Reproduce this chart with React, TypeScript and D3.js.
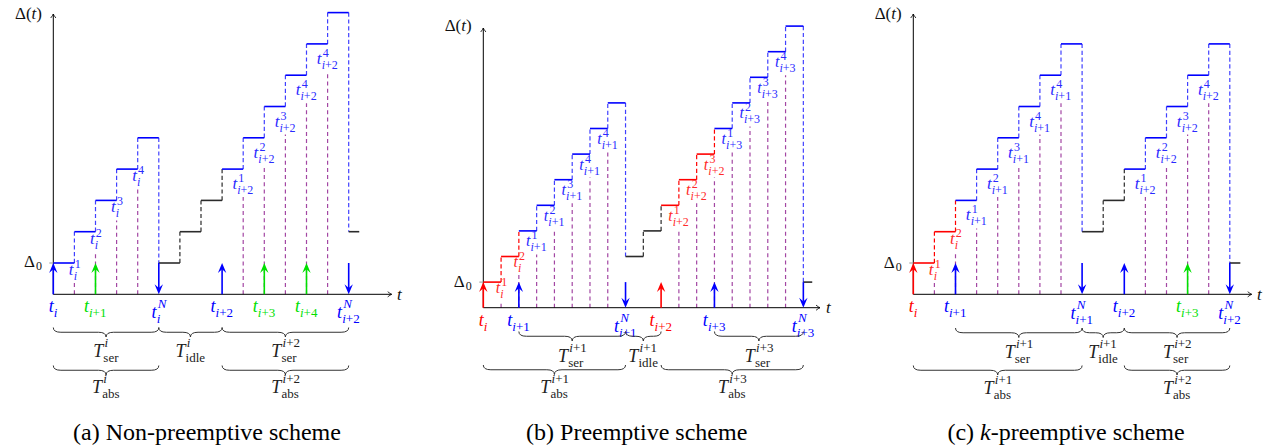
import React from "react";
import * as d3 from "d3";

// ---------- colours ----------
const BLUE = "#0000ff";
const RED = "#ff0000";
const GREEN = "#00e000";
const BLACK = "#2b2b2b";
const PURPLE = "#a347a3";
const LBLUE = "#2a2aff";
const LRED = "#ff2a2a";

type HSeg = [number, number, number, string]; // x0, x1, level, colour
type VSeg = [number, number, number, string]; // x, level0, level1, colour
type UpArrow = [number, string];
type StepLabel = [number, number, string, string, string]; // x, level, sup, sub, colour
type AxisLabel = [number, string, string, string]; // x, sub, sup, colour
type Brace = [number, number, number, string, string]; // x0, x1, row, sup, sub

// ---------- (a) non-preemptive ----------
const aHoriz: HSeg[] = [
  [0, 1, 1, BLUE], [1, 2, 2, BLUE], [2, 3, 3, BLUE], [3, 4, 4, BLUE], [4, 5, 5, BLUE],
  [5, 6, 1, BLACK], [6, 7, 2, BLACK], [7, 8, 3, BLACK],
  [8, 9, 4, BLUE], [9, 10, 5, BLUE], [10, 11, 6, BLUE], [11, 12, 7, BLUE], [12, 13, 8, BLUE], [13, 14, 9, BLUE],
  [14, 14.5, 2, BLACK],
];
const aVert: VSeg[] = [
  [1, 1, 2, BLUE], [2, 2, 3, BLUE], [3, 3, 4, BLUE], [4, 4, 5, BLUE], [5, 5, 1, BLUE],
  [6, 1, 2, BLACK], [7, 2, 3, BLACK], [8, 3, 4, BLACK],
  [9, 4, 5, BLUE], [10, 5, 6, BLUE], [11, 6, 7, BLUE], [12, 7, 8, BLUE], [13, 8, 9, BLUE], [14, 9, 2, BLUE],
];
const aUp: UpArrow[] = [[0, BLUE], [2, GREEN], [8, BLUE], [10, GREEN], [12, GREEN]];
const aDown: number[] = [5, 14];
const aPurple: number[] = [1, 2, 3, 4, 9, 10, 11, 12, 13];
const aLabels: StepLabel[] = [
  [1, 1, "1", "i", LBLUE], [2, 2, "2", "i", LBLUE], [3, 3, "3", "i", LBLUE], [4, 4, "4", "i", LBLUE],
  [9, 4, "1", "i+2", LBLUE], [10, 5, "2", "i+2", LBLUE], [11, 6, "3", "i+2", LBLUE], [12, 7, "4", "i+2", LBLUE], [13, 8, "4", "i+2", LBLUE],
];
const aAxis: AxisLabel[] = [
  [0, "i", "", BLUE], [2, "i+1", "", GREEN], [5, "i", "N", BLUE], [8, "i+2", "", BLUE],
  [10, "i+3", "", GREEN], [12, "i+4", "", GREEN], [14, "i+2", "N", BLUE],
];
const aBraces: Brace[] = [
  [0, 5, 0, "i", "ser"], [5, 8, 0, "i", "idle"], [8, 14, 0, "i+2", "ser"],
  [0, 5, 1, "i", "abs"], [8, 14, 1, "i+2", "abs"],
];

// ---------- (b) preemptive ----------
const bHoriz: HSeg[] = [
  [0, 1, 1, RED], [1, 2, 2, RED],
  [2, 3, 3, BLUE], [3, 4, 4, BLUE], [4, 5, 5, BLUE], [5, 6, 6, BLUE], [6, 7, 7, BLUE], [7, 8, 8, BLUE],
  [8, 9, 2, BLACK], [9, 10, 3, BLACK],
  [10, 11, 4, RED], [11, 12, 5, RED], [12, 13, 6, RED],
  [13, 14, 7, BLUE], [14, 15, 8, BLUE], [15, 16, 9, BLUE], [16, 17, 10, BLUE], [17, 18, 11, BLUE],
  [18, 18.5, 1, BLACK],
];
const bVert: VSeg[] = [
  [1, 1, 2, RED], [2, 2, 3, RED],
  [3, 3, 4, BLUE], [4, 4, 5, BLUE], [5, 5, 6, BLUE], [6, 6, 7, BLUE], [7, 7, 8, BLUE], [8, 8, 2, BLUE],
  [9, 2, 3, BLACK], [10, 3, 4, BLACK],
  [11, 4, 5, RED], [12, 5, 6, RED], [13, 6, 7, RED],
  [14, 7, 8, BLUE], [15, 8, 9, BLUE], [16, 9, 10, BLUE], [17, 10, 11, BLUE], [18, 11, 1, BLUE],
];
const bUp: UpArrow[] = [[0, RED], [2, BLUE], [10, RED], [13, BLUE]];
const bDown: number[] = [8, 18];
const bPurple: number[] = [1, 2, 3, 4, 5, 6, 7, 11, 12, 13, 14, 15, 16, 17];
const bLabels: StepLabel[] = [
  [1, 1, "1", "i", LRED], [2, 2, "2", "i", LRED],
  [3, 3, "1", "i+1", LBLUE], [4, 4, "2", "i+1", LBLUE], [5, 5, "3", "i+1", LBLUE], [6, 6, "4", "i+1", LBLUE], [7, 7, "4", "i+1", LBLUE],
  [11, 4, "1", "i+2", LRED], [12, 5, "2", "i+2", LRED], [13, 6, "3", "i+2", LRED],
  [14, 7, "1", "i+3", LBLUE], [15, 8, "2", "i+3", LBLUE], [16, 9, "3", "i+3", LBLUE], [17, 10, "4", "i+3", LBLUE],
];
const bAxis: AxisLabel[] = [
  [0, "i", "", RED], [2, "i+1", "", BLUE], [8, "i+1", "N", BLUE], [10, "i+2", "", RED],
  [13, "i+3", "", BLUE], [18, "i+3", "N", BLUE],
];
const bBraces: Brace[] = [
  [2, 8, 0, "i+1", "ser"], [8, 10, 0, "i+1", "idle"], [13, 18, 0, "i+3", "ser"],
  [0, 8, 1, "i+1", "abs"], [10, 18, 1, "i+3", "abs"],
];

// ---------- (c) k-preemptive ----------
const cHoriz: HSeg[] = [
  [0, 1, 1, RED], [1, 2, 2, RED],
  [2, 3, 3, BLUE], [3, 4, 4, BLUE], [4, 5, 5, BLUE], [5, 6, 6, BLUE], [6, 7, 7, BLUE], [7, 8, 8, BLUE],
  [8, 9, 2, BLACK], [9, 10, 3, BLACK],
  [10, 11, 4, BLUE], [11, 12, 5, BLUE], [12, 13, 6, BLUE], [13, 14, 7, BLUE], [14, 15, 8, BLUE],
  [15, 15.5, 1, BLACK],
];
const cVert: VSeg[] = [
  [1, 1, 2, RED], [2, 2, 3, RED],
  [3, 3, 4, BLUE], [4, 4, 5, BLUE], [5, 5, 6, BLUE], [6, 6, 7, BLUE], [7, 7, 8, BLUE], [8, 8, 2, BLUE],
  [9, 2, 3, BLACK], [10, 3, 4, BLACK],
  [11, 4, 5, BLUE], [12, 5, 6, BLUE], [13, 6, 7, BLUE], [14, 7, 8, BLUE], [15, 8, 1, BLUE],
];
const cUp: UpArrow[] = [[0, RED], [2, BLUE], [10, BLUE], [13, GREEN]];
const cDown: number[] = [8, 15];
const cPurple: number[] = [1, 2, 3, 4, 5, 6, 7, 11, 12, 13, 14];
const cLabels: StepLabel[] = [
  [1, 1, "1", "i", LRED], [2, 2, "2", "i", LRED],
  [3, 3, "1", "i+1", LBLUE], [4, 4, "2", "i+1", LBLUE], [5, 5, "3", "i+1", LBLUE], [6, 6, "4", "i+1", LBLUE], [7, 7, "4", "i+1", LBLUE],
  [11, 4, "1", "i+2", LBLUE], [12, 5, "2", "i+2", LBLUE], [13, 6, "3", "i+2", LBLUE], [14, 7, "4", "i+2", LBLUE],
];
const cAxis: AxisLabel[] = [
  [0, "i", "", RED], [2, "i+1", "", BLUE], [8, "i+1", "N", BLUE], [10, "i+2", "", BLUE],
  [13, "i+3", "", GREEN], [15, "i+2", "N", BLUE],
];
const cBraces: Brace[] = [
  [2, 8, 0, "i+1", "ser"], [8, 10, 0, "i+1", "idle"], [10, 15, 0, "i+2", "ser"],
  [0, 8, 1, "i+1", "abs"], [10, 15, 1, "i+2", "abs"],
];

// ---------- text helpers ----------
const SERIF = "Liberation Serif";
const UPRIGHT = new Set(["ser", "abs", "idle"]);
const CW: Record<string, number> = {
  t: 0.3, i: 0.29, T: 0.58, N: 0.7, "+": 0.58, "0": 0.5, "1": 0.5, "2": 0.5, "3": 0.5, "4": 0.5,
  s: 0.39, e: 0.44, r: 0.34, a: 0.45, b: 0.5, d: 0.5, l: 0.28,
};
function pieces(s: string) {
  if (UPRIGHT.has(s)) return [{ t: s, it: false }];
  const out: { t: string; it: boolean }[] = [];
  for (const ch of s) {
    const it = /[a-zA-Z]/.test(ch);
    const last = out[out.length - 1];
    if (last && last.it === it) last.t += ch;
    else out.push({ t: ch, it });
  }
  return out;
}
function tw(s: string, size: number) {
  let w = 0;
  for (const ch of s) w += CW[ch] ?? 0.5;
  return w * size;
}
function Txt({ x, y, s, size, color }: { x: number; y: number; s: string; size: number; color: string }) {
  return (
    <text x={x} y={y} fontSize={size} fill={color}>
      {pieces(s).map((p, k) => (
        <tspan key={k} fontStyle={p.it ? "italic" : "normal"}>{p.t}</tspan>
      ))}
    </text>
  );
}
function MathSym({ cx, y, base, sup, sub, size, subSize, color, supUp, subDown }: any) {
  const bw = tw(base, size);
  const sw = Math.max(sup ? tw(sup, subSize) : 0, sub ? tw(sub, subSize) : 0);
  const x0 = cx - (bw + sw) / 2;
  return (
    <g>
      <Txt x={x0} y={y} s={base} size={size} color={color} />
      {sup ? <Txt x={x0 + bw + 0.8} y={y - supUp} s={sup} size={subSize} color={color} /> : null}
      {sub ? <Txt x={x0 + bw - 0.3} y={y + subDown} s={sub} size={subSize} color={color} /> : null}
    </g>
  );
}

function bracePath(x0: number, x1: number, top: number, h: number) {
  const m = (x0 + x1) / 2;
  const yh = top + h / 2;
  const r = Math.min(h * 0.8, (x1 - x0) / 4);
  return `M${x0},${top} Q${x0},${yh} ${x0 + r},${yh} L${m - r},${yh} Q${m},${yh} ${m},${top + h} Q${m},${yh} ${m + r},${yh} L${x1 - r},${yh} Q${x1},${yh} ${x1},${top}`;
}

function head(x: number, tip: number, dir: number, color: string, L = 10, w = 4.2) {
  const b = tip + dir * L;
  const n = tip + dir * L * 0.62;
  return <path d={`M${x},${tip} L${x + w},${b} L${x},${n} L${x - w},${b} Z`} fill={color} stroke="none" />;
}

type Cfg = {
  ox: number; oy: number; dx: number; dy: number; xEnd: number; yTop: number;
  fs: number; ss: number; shortOff: number; longOff: number;
  axFs: number; axSs: number; axBase: number; axBaseN: number;
  brTop: [number, number]; brLbl: [number, number]; brFs: number; brSs: number;
  dtX: number; dtY: number; d0Y: number; tX: number; tY: number; titleFs: number;
  caption: React.ReactNode; capX: number;
};

function Panel({ cfg, horiz, vert, ups, downs, purple, labels, axis, braces }: {
  cfg: Cfg; horiz: HSeg[]; vert: VSeg[]; ups: UpArrow[]; downs: number[]; purple: number[];
  labels: StepLabel[]; axis: AxisLabel[]; braces: Brace[];
}) {
  const x = d3.scaleLinear().domain([0, 1]).range([cfg.ox, cfg.ox + cfg.dx]);
  const y = d3.scaleLinear().domain([0, 1]).range([cfg.oy, cfg.oy - cfg.dy]);
  const line = d3.line<[number, number]>().x((d) => d[0]).y((d) => d[1]);
  const lblBase = (l: StepLabel) => y(l[1]) + (l[3].length > 1 ? cfg.longOff : cfg.shortOff);
  const supUp = Math.round(cfg.ss * 0.62);
  const subDown = Math.round(cfg.ss * 0.42);
  return (
    <g>
      {purple.map((px, k) => {
        const l = labels.find((d) => d[0] === px);
        const top = l ? lblBase(l) + subDown + 3 : y(1);
        return (
          <path key={"p" + k} d={line([[x(px), cfg.oy], [x(px), top]]) || ""} stroke={PURPLE}
            strokeWidth={1.2} strokeDasharray="4,3.2" fill="none" />
        );
      })}
      <path d={line([[cfg.ox, cfg.oy], [cfg.xEnd, cfg.oy]]) || ""} stroke="#000" strokeWidth={1} fill="none" />
      <path d={`M${cfg.xEnd - 4},${cfg.oy - 2.6} Q${cfg.xEnd - 1.5},${cfg.oy - 0.6} ${cfg.xEnd},${cfg.oy} Q${cfg.xEnd - 1.5},${cfg.oy + 0.6} ${cfg.xEnd - 4},${cfg.oy + 2.6}`}
        stroke="#000" strokeWidth={0.8} fill="none" />
      <path d={line([[cfg.ox, cfg.oy], [cfg.ox, cfg.yTop]]) || ""} stroke="#000" strokeWidth={1} fill="none" />
      <path d={`M${cfg.ox - 2.6},${cfg.yTop + 4} Q${cfg.ox - 0.6},${cfg.yTop + 1.5} ${cfg.ox},${cfg.yTop} Q${cfg.ox + 0.6},${cfg.yTop + 1.5} ${cfg.ox + 2.6},${cfg.yTop + 4}`}
        stroke="#000" strokeWidth={0.8} fill="none" />
      <path d={line([[cfg.ox - 4, y(1)], [cfg.ox, y(1)]]) || ""} stroke="#999" strokeWidth={1} />
      {vert.map((v, k) => (
        <path key={"v" + k} d={line([[x(v[0]), y(v[1])], [x(v[0]), y(v[2])]]) || ""} stroke={v[3]}
          strokeWidth={1.2} strokeDasharray="4.2,2.6" fill="none" opacity={v[3] === BLUE ? 0.75 : 1} />
      ))}
      {horiz.map((h, k) => (
        <path key={"h" + k} d={line([[x(h[0]), y(h[2])], [x(h[1]), y(h[2])]]) || ""} stroke={h[3]}
          strokeWidth={1.6} fill="none" />
      ))}
      {ups.map((u, k) => (
        <g key={"u" + k}>
          <path d={line([[x(u[0]), cfg.oy], [x(u[0]), y(1) + 6]]) || ""} stroke={u[1]} strokeWidth={1.6} />
          {head(x(u[0]), y(1), 1, u[1])}
        </g>
      ))}
      {downs.map((d, k) => (
        <g key={"d" + k}>
          <path d={line([[x(d), y(1)], [x(d), cfg.oy - 6]]) || ""} stroke={BLUE} strokeWidth={1.6} />
          {head(x(d), cfg.oy, -1, BLUE)}
        </g>
      ))}
      {labels.map((l, k) => (
        <MathSym key={"l" + k} cx={x(l[0])} y={lblBase(l)} base="t" sup={l[2]} sub={l[3]}
          size={cfg.fs} subSize={cfg.ss} color={l[4]} supUp={supUp} subDown={subDown} />
      ))}
      {axis.map((a, k) => (
        <MathSym key={"a" + k} cx={x(a[0])} y={a[2] ? cfg.axBaseN : cfg.axBase} base="t" sup={a[2]} sub={a[1]}
          size={cfg.axFs} subSize={cfg.axSs} color={a[3]} supUp={10} subDown={5} />
      ))}
      {braces.map((b, k) => (
        <g key={"b" + k}>
          <path d={bracePath(x(b[0]), x(b[1]), cfg.brTop[b[2]], 9.5)} stroke="#333" strokeWidth={1} fill="none" />
          <MathSym cx={(x(b[0]) + x(b[1])) / 2} y={cfg.brLbl[b[2]]} base="T" sup={b[3]} sub={b[4]}
            size={cfg.brFs} subSize={cfg.brSs} color="#222" supUp={10} subDown={5} />
        </g>
      ))}
      <text x={cfg.dtX} y={cfg.dtY} fontSize={cfg.titleFs} textAnchor="end" fill="#111">
        <tspan>Δ(</tspan><tspan fontStyle="italic">t</tspan><tspan>)</tspan>
      </text>
      <text x={cfg.dtX - 7} y={cfg.d0Y} fontSize={cfg.titleFs} textAnchor="end" fill="#111">Δ</text>
      <text x={cfg.dtX} y={cfg.d0Y + 3} fontSize={12} textAnchor="end" fill="#111">0</text>
      <text x={cfg.tX} y={cfg.tY} fontSize={cfg.titleFs} fontStyle="italic" fill="#111">t</text>
      <text x={cfg.capX} y={440} fontSize={24} textAnchor="middle" fill="#000">{cfg.caption}</text>
    </g>
  );
}

const cfgA: Cfg = {
  ox: 53.3, oy: 294.3, dx: 21.1, dy: 31.3, xEnd: 391.7, yTop: 14,
  fs: 17, ss: 12, shortOff: 12, longOff: 20,
  axFs: 18, axSs: 13, axBase: 312, axBaseN: 318,
  brTop: [327.5, 365.5], brLbl: [357, 393], brFs: 18, brSs: 13,
  dtX: 42, dtY: 19, d0Y: 267, tX: 397, tY: 300, titleFs: 17,
  caption: "(a) Non-preemptive scheme", capX: 207,
};
const cfgB: Cfg = {
  ox: 483.3, oy: 307.7, dx: 17.78, dy: 25.6, xEnd: 820, yTop: 28,
  fs: 16, ss: 12, shortOff: 10.5, longOff: 15.5,
  axFs: 18, axSs: 13, axBase: 326, axBaseN: 332,
  brTop: [331.5, 365], brLbl: [362, 393], brFs: 18, brSs: 13,
  dtX: 471.7, dtY: 30.5, d0Y: 286.5, tX: 826, tY: 313, titleFs: 17,
  caption: "(b) Preemptive scheme", capX: 636.7,
};
const cfgC: Cfg = {
  ox: 913.3, oy: 294.3, dx: 21.1, dy: 31.3, xEnd: 1251.7, yTop: 14,
  fs: 17, ss: 12, shortOff: 12, longOff: 20,
  axFs: 18, axSs: 13, axBase: 312, axBaseN: 319,
  brTop: [328, 365.5], brLbl: [358, 394], brFs: 18, brSs: 13,
  dtX: 901.7, dtY: 19, d0Y: 268, tX: 1257, tY: 300, titleFs: 17,
  caption: (<><tspan>(c) </tspan><tspan fontStyle="italic">k</tspan><tspan>-preemptive scheme</tspan></>), capX: 1066,
};

export default function App() {
  return (
    <svg width={1271} height={447} viewBox="0 0 1271 447" fontFamily={SERIF}
      style={{ position: "absolute", left: 0, top: 0, background: "#fff" }}>
      <rect x={0} y={0} width={1271} height={447} fill="#fff" />
      <Panel cfg={cfgA} horiz={aHoriz} vert={aVert} ups={aUp} downs={aDown} purple={aPurple} labels={aLabels} axis={aAxis} braces={aBraces} />
      <Panel cfg={cfgB} horiz={bHoriz} vert={bVert} ups={bUp} downs={bDown} purple={bPurple} labels={bLabels} axis={bAxis} braces={bBraces} />
      <Panel cfg={cfgC} horiz={cHoriz} vert={cVert} ups={cUp} downs={cDown} purple={cPurple} labels={cLabels} axis={cAxis} braces={cBraces} />
    </svg>
  );
}
